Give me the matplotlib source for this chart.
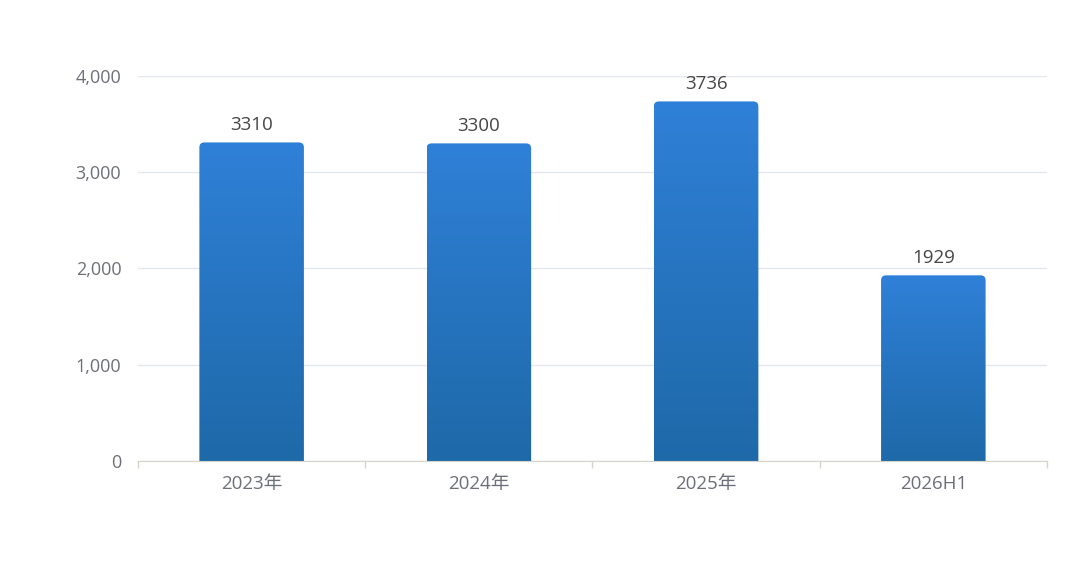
import matplotlib.pyplot as plt
import numpy as np
from matplotlib.patches import FancyBboxPatch
from matplotlib.colors import LinearSegmentedColormap

plt.rcParams['font.family'] = ['Open Sans', 'Noto Sans CJK SC', 'DejaVu Sans']

categories = ['2023年', '2024年', '2025年', '2026H1']
values = [3310, 3300, 3736, 1929]
yticks = [0, 1000, 2000, 3000, 4000]
ytick_labels = ['0', '1,000', '2,000', '3,000', '4,000']

fig = plt.figure(figsize=(10.8, 5.61), dpi=100)
ax = fig.add_axes([0.1278, 0.1783, 0.8416, 0.6862])

x = np.arange(len(categories))
bw = 0.46
ax.set_xlim(-0.5, len(categories) - 0.5)
ax.set_ylim(0, 4000)

# invisible bars give the positions, gradient drawn on top
bars = ax.bar(x, values, width=bw, color='none')
cmap = LinearSegmentedColormap.from_list('blu', ['#1e69a8', '#2f80d8'])
grad = np.linspace(0, 1, 256).reshape(-1, 1)

# radius ~5px in each direction
px_x = 909 / 4.0
px_y = 385 / 4000.0
rx = 5 / px_x
ry = 5 / px_y
for i, b in enumerate(bars):
    x0 = b.get_x()
    h = b.get_height()
    patch = FancyBboxPatch((x0 + rx, -300), bw - 2 * rx, h + 300 - ry,
                           boxstyle='round,pad=%f' % rx,
                           mutation_aspect=ry / rx,
                           facecolor='none', edgecolor='none')
    ax.add_patch(patch)
    im = ax.imshow(grad, extent=[x0, x0 + bw, 0, h], origin='lower',
                   cmap=cmap, aspect='auto', zorder=3)
    im.set_clip_path(patch)
    ax.text(x0 + bw / 2, h + 85, str(values[i]),
            ha='center', va='bottom', fontsize=13.5, color='#464646', zorder=4)

ax.set_yticks(yticks)
ax.set_yticklabels(ytick_labels)
ax.set_xticks(x)
ax.set_xticklabels(categories)
ax.set_xticks(np.arange(-0.5, len(categories)), minor=True)
ax.tick_params(axis='x', which='major', length=0, pad=10, labelsize=13.5, labelcolor='#6E7079')
ax.tick_params(axis='x', which='minor', length=5, color='#D6D3C9', width=1)
ax.tick_params(axis='y', length=0, pad=12, labelsize=13, labelcolor='#6E7079')

ax.grid(axis='y', color='#E3E6EE', linewidth=1)
ax.set_axisbelow(True)
for s in ['top', 'right', 'left']:
    ax.spines[s].set_visible(False)
ax.spines['bottom'].set_color('#D6D3C9')
ax.spines['bottom'].set_zorder(5)

fig.savefig('out.png', dpi=100)
